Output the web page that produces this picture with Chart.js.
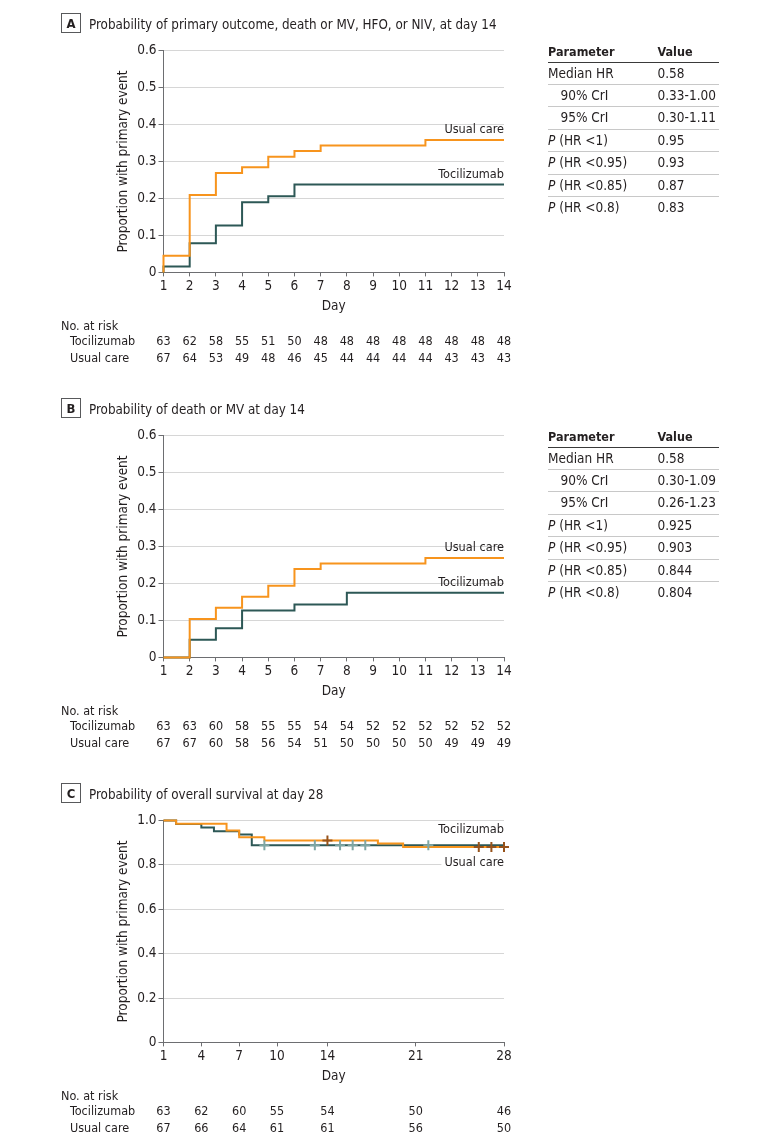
<!DOCTYPE html>
<html>
<head>
<meta charset="utf-8">
<title>Tocilizumab vs usual care</title>
<script src="https://cdn.jsdelivr.net/npm/chart.js@4.4.1/dist/chart.umd.min.js"></script>
<style>
  html, body { margin: 0; padding: 0; background: #fff; }
  body { width: 780px; height: 1146px; position: relative; overflow: hidden;
         font-family: 'DejaVu Sans Condensed', 'Liberation Sans Narrow', sans-serif; color: #231f20; }
  .panel { position: absolute; left: 0; width: 780px; height: 376px; }
  .panel canvas { position: absolute; left: 0; top: 0; }
  .params { position: absolute; left: 548px; top: 41px; width: 171px; font-size: 13.5px; }
  .params .row { position: relative; height: 21.4px; line-height: 21.4px; border-bottom: 1px solid #c8c8c8; white-space: nowrap; }
  .params .row:last-child { border-bottom: none; }
  .params .head { font-weight: bold; font-size: 12.5px; height: 20.7px; line-height: 21px; border-bottom: 1.5px solid #3a3a3a; }
  .params .val { position: absolute; left: 109.5px; top: 0; }
  .params .ind { padding-left: 12.5px; }
</style>
</head>
<body>
<div class="panel" style="top:0px"><canvas id="chartA" width="780" height="376"></canvas><div class="params" id="paramsA"></div></div>
<div class="panel" style="top:385px"><canvas id="chartB" width="780" height="376"></canvas><div class="params" id="paramsB"></div></div>
<div class="panel" style="top:770px"><canvas id="chartC" width="780" height="376"></canvas></div>
<script>
const FONT = "'DejaVu Sans Condensed', 'Liberation Sans Narrow', sans-serif";
const TXT = '#231f20';
const AXIS = '#6d6e71';
const GRID = '#d6d6d6';
const ORANGE = '#f7941d';
const TEAL = '#2d5856';
const TEAL_CENSOR = '#7fa7a4';
const BROWN_CENSOR = '#97521a';

/* A: primary outcome */
const aTitle = 'Probability of primary outcome, death or MV, HFO, or NIV, at day 14';
const aUsualDays = [1, 2, 3, 4, 5, 6, 7, 11];
const aUsual = [0.045, 0.209, 0.269, 0.284, 0.313, 0.328, 0.343, 0.358];
const aTociDays = [1, 2, 3, 4, 5, 6];
const aToci = [0.016, 0.079, 0.127, 0.190, 0.206, 0.238];
const aDays = [1, 2, 3, 4, 5, 6, 7, 8, 9, 10, 11, 12, 13, 14];
const aRiskToci = [63, 62, 58, 55, 51, 50, 48, 48, 48, 48, 48, 48, 48, 48];
const aRiskUsual = [67, 64, 53, 49, 48, 46, 45, 44, 44, 44, 44, 43, 43, 43];
const aParamValues = ['0.58', '0.33-1.00', '0.30-1.11', '0.95', '0.93', '0.87', '0.83'];

/* B: death or MV */
const bTitle = 'Probability of death or MV at day 14';
const bUsualDays = [2, 3, 4, 5, 6, 7, 11];
const bUsual = [0.104, 0.134, 0.164, 0.194, 0.239, 0.254, 0.269];
const bTociDays = [2, 3, 4, 6, 8];
const bToci = [0.048, 0.079, 0.127, 0.143, 0.175];
const bDays = [1, 2, 3, 4, 5, 6, 7, 8, 9, 10, 11, 12, 13, 14];
const bRiskToci = [63, 63, 60, 58, 55, 55, 54, 54, 52, 52, 52, 52, 52, 52];
const bRiskUsual = [67, 67, 60, 58, 56, 54, 51, 50, 50, 50, 50, 49, 49, 49];
const bParamValues = ['0.58', '0.30-1.09', '0.26-1.23', '0.925', '0.903', '0.844', '0.804'];

/* C: overall survival */
const cTitle = 'Probability of overall survival at day 28';
const cTociDays = [2, 4, 5, 7, 8];
const cToci = [0.984, 0.968, 0.952, 0.937, 0.889];
const cUsualDays = [2, 6, 7, 9, 18, 20];
const cUsual = [0.985, 0.955, 0.925, 0.910, 0.896, 0.881];
const cTociCensorDays = [9, 13, 15, 16, 17, 22];
const cUsualCensorDays = [14, 26, 27, 28];
const cDays = [1, 4, 7, 10, 14, 21, 28];
const cRiskToci = [63, 62, 60, 55, 54, 50, 46];
const cRiskUsual = [67, 66, 64, 61, 61, 56, 50];

const yTicksAB = [0, 0.1, 0.2, 0.3, 0.4, 0.5, 0.6];
const yTicksC = [0, 0.2, 0.4, 0.6, 0.8, 1.0];

const paramLabels = ['Median HR', '90% CrI', '95% CrI', '(HR <1)', '(HR <0.95)', '(HR <0.85)', '(HR <0.8)'];
const paramIndent = [false, true, true, false, false, false, false];
const paramP = [false, false, false, true, true, true, true];

function kmPoints(startDay, startVal, days, vals, endDay) {
    const pts = [{x: startDay, y: startVal}];
    let prev = startVal;
    days.forEach(function (d, i) {
        pts.push({x: d, y: prev});
        pts.push({x: d, y: vals[i]});
        prev = vals[i];
    });
    pts.push({x: endDay, y: prev});
    return pts;
}
function valueAt(startVal, days, vals, day) {
    let v = startVal;
    days.forEach(function (d, i) { if (d <= day) v = vals[i]; });
    return v;
}

function buildParams(el, values) {
    const head = document.createElement('div');
    head.className = 'row head';
    head.appendChild(document.createTextNode('Parameter'));
    const hv = document.createElement('span');
    hv.className = 'val';
    hv.textContent = 'Value';
    head.appendChild(hv);
    el.appendChild(head);
    paramLabels.forEach(function (lab, i) {
        const row = document.createElement('div');
        row.className = 'row';
        const name = document.createElement('span');
        if (paramIndent[i]) name.className = 'ind';
        if (paramP[i]) {
            const p = document.createElement('i');
            p.textContent = 'P';
            name.appendChild(p);
            name.appendChild(document.createTextNode(' '));
        }
        name.appendChild(document.createTextNode(lab));
        row.appendChild(name);
        const v = document.createElement('span');
        v.className = 'val';
        v.textContent = values[i];
        row.appendChild(v);
        el.appendChild(row);
    });
}

const decor = {
    id: 'decor',
    afterDraw(chart, args, o) {
        const ctx = chart.ctx;
        const xs = chart.scales.x, ys = chart.scales.y;
        ctx.save();
        ctx.fillStyle = TXT;
        // panel letter + title
        ctx.strokeStyle = '#58595b';
        ctx.lineWidth = 1;
        ctx.strokeRect(61.5, 13.5, 19, 19);
        ctx.font = 'bold 13px ' + FONT;
        ctx.textAlign = 'center';
        ctx.textBaseline = 'alphabetic';
        ctx.fillText(o.letter, 71, 28);
        ctx.font = '13.3px ' + FONT;
        ctx.textAlign = 'left';
        ctx.fillText(o.title, 89, 28.5);
        // number at risk
        ctx.font = '12.5px ' + FONT;
        ctx.textBaseline = 'middle';
        ctx.fillText('No. at risk', 61, 326.5);
        ctx.fillText('Tocilizumab', 70, 342);
        ctx.fillText('Usual care', 70, 358.5);
        ctx.textAlign = 'center';
        o.riskDays.forEach(function (d, i) {
            const px = xs.getPixelForValue(d);
            ctx.fillText(String(o.riskToci[i]), px, 342);
            ctx.fillText(String(o.riskUsual[i]), px, 358.5);
        });
        // curve labels
        ctx.font = '12.6px ' + FONT;
        ctx.textAlign = 'right';
        o.labels.forEach(function (l) {
            const py = ys.getPixelForValue(l.value) + l.dy;
            if (l.bg) {
                const w = ctx.measureText(l.text).width;
                ctx.fillStyle = '#fff';
                ctx.fillRect(chart.chartArea.right - w - 3, py - 8, w + 3, 16);
            }
            ctx.fillStyle = TXT;
            ctx.fillText(l.text, chart.chartArea.right, py);
        });
        ctx.restore();
    }
};

function lineSet(label, data, color, order) {
    return {label: label, data: data, borderColor: color, backgroundColor: color, borderWidth: 2,
            pointRadius: 0, tension: 0, order: order, clip: false, borderJoinStyle: 'miter'};
}
function censorSet(label, data, color) {
    return {label: label, data: data, showLine: false, pointStyle: 'cross', pointRadius: 5,
            pointBorderWidth: 2, pointBorderColor: color, borderColor: color, order: 0, clip: false};
}

function makePanel(id, p) {
    new Chart(document.getElementById(id), {
        type: 'line',
        data: {datasets: p.datasets},
        options: {
            responsive: false,
            animation: false,
            events: [],
            layout: {padding: {left: 103.5, right: 276, top: 50.5, bottom: 61}},
            plugins: {legend: {display: false}, tooltip: {enabled: false}, decor: p.decor},
            scales: {
                x: {
                    type: 'linear', min: p.xTicks[0], max: p.xTicks[p.xTicks.length - 1],
                    afterFit: function (s) { s.height = 42.6; },
                    afterBuildTicks: function (s) { s.ticks = p.xTicks.map(function (v) { return {value: v}; }); },
                    grid: {drawOnChartArea: false, drawTicks: true, tickLength: 4, tickColor: AXIS},
                    border: {color: AXIS, width: 1},
                    ticks: {color: TXT, font: {family: FONT, size: 13.5}, padding: 2, maxRotation: 0, autoSkip: false},
                    title: {display: true, text: 'Day', color: TXT, font: {family: FONT, size: 13.5}, padding: 0}
                },
                y: {
                    type: 'linear', min: 0, max: p.yTicks[p.yTicks.length - 1],
                    afterFit: function (s) { s.width = 60; },
                    afterBuildTicks: function (s) { s.ticks = p.yTicks.map(function (v) { return {value: v}; }); },
                    grid: {color: GRID, lineWidth: 1, drawTicks: true, tickLength: 5, tickColor: AXIS},
                    border: {color: AXIS, width: 1},
                    ticks: {color: TXT, font: {family: FONT, size: 13.5}, padding: 2,
                            callback: function (v) { return v === 0 ? '0' : Number(v).toFixed(1); }},
                    title: {display: true, text: 'Proportion with primary event', color: TXT,
                            font: {family: FONT, size: 13.5}, padding: {top: 11.4, bottom: 0}}
                }
            }
        },
        plugins: [decor]
    });
}

buildParams(document.getElementById('paramsA'), aParamValues);
buildParams(document.getElementById('paramsB'), bParamValues);

makePanel('chartA', {
    xTicks: aDays, yTicks: yTicksAB,
    datasets: [
        lineSet('Usual care', kmPoints(1, 0, aUsualDays, aUsual, 14), ORANGE, 1),
        lineSet('Tocilizumab', kmPoints(1, 0, aTociDays, aToci, 14), TEAL, 2)
    ],
    decor: {letter: 'A', title: aTitle, riskDays: aDays, riskToci: aRiskToci, riskUsual: aRiskUsual,
            labels: [{text: 'Usual care', value: aUsual[aUsual.length - 1], dy: -10},
                     {text: 'Tocilizumab', value: aToci[aToci.length - 1], dy: -10}]}
});

makePanel('chartB', {
    xTicks: bDays, yTicks: yTicksAB,
    datasets: [
        lineSet('Usual care', kmPoints(1, 0, bUsualDays, bUsual, 14), ORANGE, 1),
        lineSet('Tocilizumab', kmPoints(1, 0, bTociDays, bToci, 14), TEAL, 2)
    ],
    decor: {letter: 'B', title: bTitle, riskDays: bDays, riskToci: bRiskToci, riskUsual: bRiskUsual,
            labels: [{text: 'Usual care', value: bUsual[bUsual.length - 1], dy: -10},
                     {text: 'Tocilizumab', value: bToci[bToci.length - 1], dy: -10}]}
});

makePanel('chartC', {
    xTicks: cDays, yTicks: yTicksC,
    datasets: [
        censorSet('Usual care censored', cUsualCensorDays.map(function (d) {
            return {x: d, y: valueAt(1, cUsualDays, cUsual, d)}; }), BROWN_CENSOR),
        censorSet('Tocilizumab censored', cTociCensorDays.map(function (d) {
            return {x: d, y: valueAt(1, cTociDays, cToci, d)}; }), TEAL_CENSOR),
        lineSet('Usual care', kmPoints(1, 1, cUsualDays, cUsual, 28), ORANGE, 1),
        lineSet('Tocilizumab', kmPoints(1, 1, cTociDays, cToci, 28), TEAL, 2)
    ],
    decor: {letter: 'C', title: cTitle, riskDays: cDays, riskToci: cRiskToci, riskUsual: cRiskUsual,
            labels: [{text: 'Tocilizumab', value: cToci[cToci.length - 1], dy: -15},
                     {text: 'Usual care', value: cUsual[cUsual.length - 1], dy: 16, bg: true}]}
});
</script>
</body>
</html>
